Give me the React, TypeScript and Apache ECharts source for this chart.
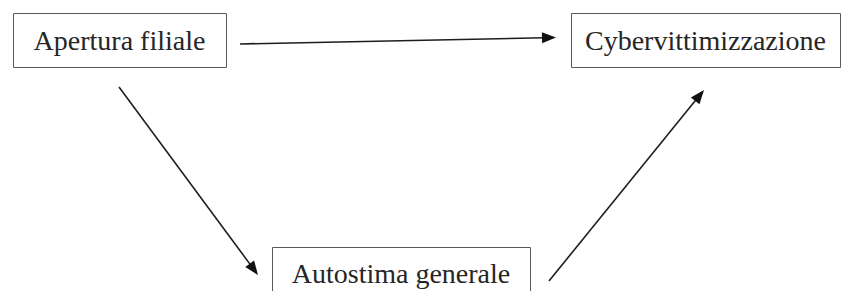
import React, { useEffect, useRef } from "react";
import * as echarts from "echarts";

// Diagram content
const nodeLabels = ["Apertura filiale", "Cybervittimizzazione", "Autostima generale"];
const links: [number, number][] = [
  [0, 1],
  [0, 2],
  [2, 1],
];

// Layout (pixels)
const boxes = [
  { x: 13, y: 13, w: 213, h: 54, cy: 40 },
  { x: 571, y: 13, w: 269, h: 54, cy: 40 },
  { x: 272, y: 247, w: 258, h: 60, cy: 273 },
];
const arrowPaths = [
  { from: [240, 44], to: [556, 37.5] },
  { from: [119, 87], to: [258, 275] },
  { from: [549, 281], to: [704, 90] },
];

export default function App() {
  const ref = useRef<HTMLDivElement>(null);
  useEffect(() => {
    document.body.style.margin = "0";
    if (!ref.current) return;
    const chart = echarts.init(ref.current, undefined, { renderer: "svg" });
    const elements: any[] = [];
    nodeLabels.forEach((label, i) => {
      const b = boxes[i];
      elements.push({
        type: "rect",
        shape: { x: b.x + 0.5, y: b.y + 0.5, width: b.w, height: b.h },
        style: { fill: "#ffffff", stroke: "#5a5a5a", lineWidth: 1 },
      });
      elements.push({
        type: "text",
        x: b.x + b.w / 2,
        y: b.cy,
        style: {
          text: label,
          font: '28px "Liberation Serif", "Times New Roman", serif',
          fill: "#262626",
          align: "center",
          verticalAlign: "middle",
        },
      });
    });
    links.forEach((_, i) => {
      const a = arrowPaths[i];
      const [x1, y1] = a.from;
      const [x2, y2] = a.to;
      const dx = x2 - x1;
      const dy = y2 - y1;
      const len = Math.sqrt(dx * dx + dy * dy);
      const ux = dx / len;
      const uy = dy / len;
      const hl = 14;
      const hw = 5.5;
      const bx = x2 - ux * hl;
      const by = y2 - uy * hl;
      elements.push({
        type: "line",
        shape: { x1, y1, x2: bx + ux * 2, y2: by + uy * 2 },
        style: { stroke: "#1e1e1e", lineWidth: 1.6 },
      });
      elements.push({
        type: "polygon",
        shape: {
          points: [
            [x2, y2],
            [bx - uy * hw, by + ux * hw],
            [bx + uy * hw, by - ux * hw],
          ],
        },
        style: { fill: "#111111" },
      });
    });
    chart.setOption({
      animation: false,
      backgroundColor: "#ffffff",
      graphic: { elements },
    });
    return () => chart.dispose();
  }, []);
  return <div ref={ref} style={{ width: 842, height: 291 }} />;
}
